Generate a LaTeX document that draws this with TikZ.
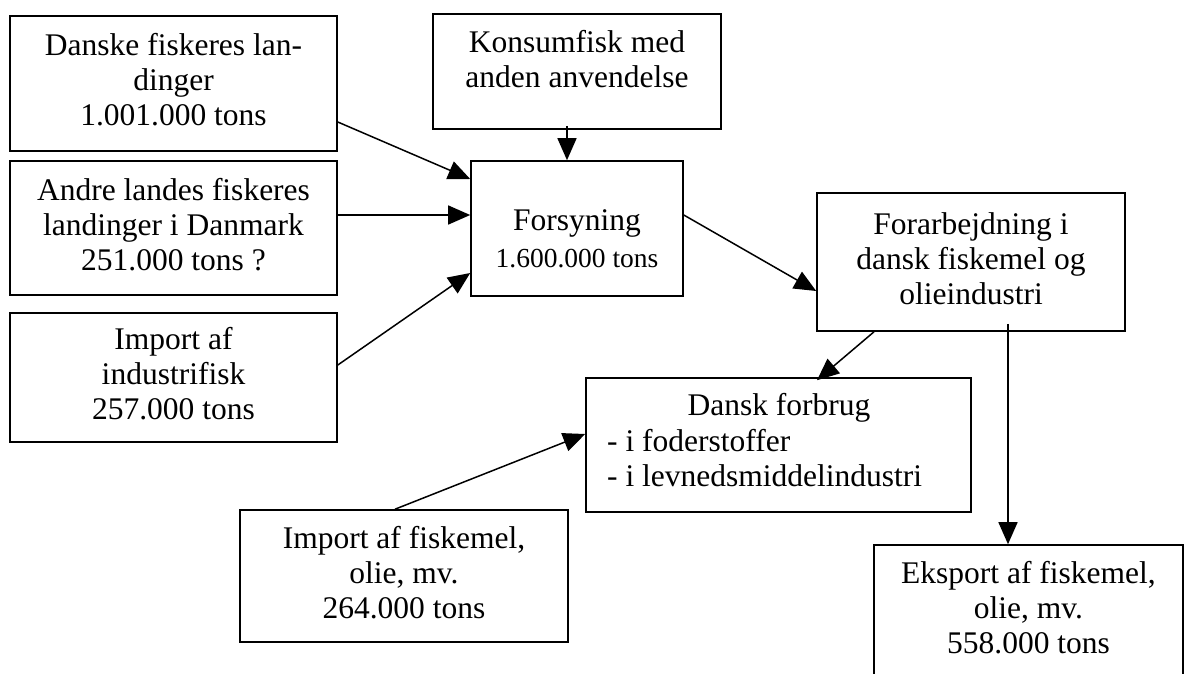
\documentclass[tikz,border=0pt]{standalone}
\usepackage{fontspec}
\setmainfont{Liberation Serif}
\usetikzlibrary{arrows.meta,calc}
\begin{document}
\begin{tikzpicture}[x=1pt,y=-1pt,
  box/.style={draw, line width=1.6pt, rectangle, inner sep=0pt, align=center,
    font=\fontsize{31.5}{35}\selectfont},
  txt/.style={inner sep=0pt, align=center, font=\fontsize{31.5}{35}\selectfont},
  arr/.style={line width=1.5pt, -{Triangle[length=22pt,width=19pt]}}]
\useasboundingbox (0,0) rectangle (1186,673);
% boxes
\node[box, minimum width=327pt, minimum height=135pt] (A) at (173.5,83.5)
  {\strut Danske fiskeres lan-\\dinger\\1.001.000 tons\strut};
\node[box, minimum width=327pt, minimum height=134pt] (B) at (173.5,228)
  {\strut Andre landes fiskeres\\landinger i Danmark\\251.000 tons ?\strut};
\node[box, minimum width=327pt, minimum height=129pt] (C) at (173.5,377.5)
  {\strut Import af\\industrifisk\\257.000 tons\strut};
\node[box, minimum width=288pt, minimum height=115pt] (K) at (577,71.5) {};
\node[txt] (Kt) at (577,62.5) {\strut Konsumfisk med\\anden anvendelse\strut};
\node[box, minimum width=212pt, minimum height=135pt] (F) at (577,228.5) {};
\node[txt] (Ft) at (577,242) {\strut Forsyning\\\fontsize{27.5}{37}\selectfont 1.600.000 tons\strut};
\node[box, minimum width=308pt, minimum height=138pt] (P) at (971,262)
  {\strut Forarbejdning i\\dansk fiskemel og\\olieindustri\strut};
\node[box, minimum width=385pt, minimum height=134pt] (D) at (778.5,445) {};
\node[txt, anchor=base] (Dt) at (779,415) {Dansk forbrug};
\node[txt, anchor=base west] (D1) at (607,451) {- i foderstoffer};
\node[txt, anchor=base west] (D2) at (607,486) {- i levnedsmiddelindustri};
\node[box, minimum width=328pt, minimum height=132pt] (M) at (404,576)
  {\strut Import af fiskemel,\\olie, mv.\\264.000 tons\strut};
\node[box, minimum width=309pt, minimum height=132pt] (E) at (1028.5,611)
  {\strut Eksport af fiskemel,\\olie, mv.\\558.000 tons\strut};
% connectors
\draw[arr] (A.east |- 0,122) -- (F.west |- 0,179);
\draw[arr] (B.east |- 0,215) -- (F.west |- 0,215);
\draw[arr] (C.east |- 0,365) -- (F.west |- 0,273);
\draw[arr] ($(K.south -| 567,0)+(0,-4)$) -- (F.north -| 567,0);
\draw[arr] (F.east |- 0,215) -- (P.west |- 0,291);
\draw[arr] (P.south -| 874,0) -- ($(D.north -| 817,0)+(0,3)$);
\draw[arr] ($(P.south -| 1008,0)+(0,-8)$) -- (E.north -| 1008,0);
\draw[arr] (M.north -| 395,0) -- (D.west |- 0,434);
\end{tikzpicture}
\end{document}
